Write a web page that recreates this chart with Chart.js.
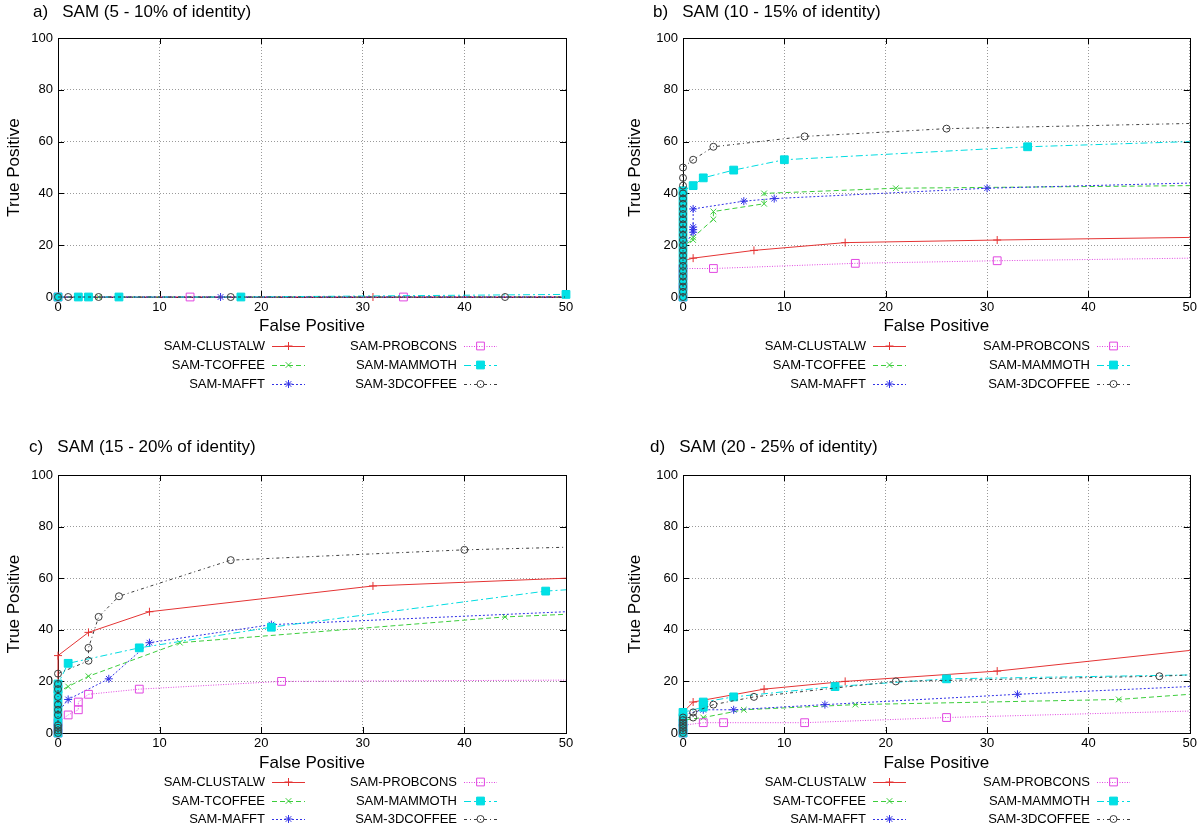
<!DOCTYPE html>
<html>
<head>
<meta charset="utf-8">
<script src="https://cdn.jsdelivr.net/npm/chart.js@4/dist/chart.umd.min.js"></script>
<style>
  html, body { margin: 0; padding: 0; background: #fff; }
  #wrap { position: relative; width: 1200px; height: 826px; }
  .cell { position: absolute; width: 600px; height: 413px; }
</style>
</head>
<body>
<div id="wrap">
  <div class="cell" style="left:0;top:0"><canvas id="chartA" width="600" height="413"></canvas></div>
  <div class="cell" style="left:600px;top:0"><canvas id="chartB" width="600" height="413"></canvas></div>
  <div class="cell" style="left:0;top:413px"><canvas id="chartC" width="600" height="413"></canvas></div>
  <div class="cell" style="left:600px;top:413px"><canvas id="chartD" width="600" height="413"></canvas></div>
</div>

<script>
// series names (same in every panel)
const names = ['SAM-CLUSTALW', 'SAM-TCOFFEE', 'SAM-MAFFT', 'SAM-PROBCONS', 'SAM-MAMMOTH', 'SAM-3DCOFFEE'];
const titles = [
  'a)   SAM (5 - 10% of identity)',
  'b)   SAM (10 - 15% of identity)',
  'c)   SAM (15 - 20% of identity)',
  'd)   SAM (20 - 25% of identity)'
];

// panel a : [false positive, true positive]
const aClustalw = [[0,0],[31,0],[50,0]];
const aTcoffee  = [[0,0],[4,0],[50,0]];
const aMafft    = [[0,0],[16,0],[50,0]];
const aProbcons = [[0,0],[13,0],[34,0],[50,0]];
const aMammoth  = [[0,0],[2,0],[3,0],[6,0],[18,0],[50,1]];
const a3dcoffee = [[0,0],[1,0],[4,0],[17,0],[44,0],[50,0]];

// panel b
const bClustalw = [[0,0],[0,3],[0,6],[0,9],[0,12],[0,14],[1,15],[7,18],[16,21],[31,22],[50,23]];
const bTcoffee  = [[0,0],[0,4],[0,8],[0,12],[0,16],[0,20],[1,22],[1,23],[3,30],[3,33],[8,36],[8,40],[21,42],[50,43]];
const bMafft    = [[0,0],[0,5],[0,10],[0,15],[0,19],[1,25],[1,26],[1,27],[1,34],[6,37],[9,38],[30,42],[50,44]];
const bProbcons = [[0,0],[0,4],[0,8],[0,11],[3,11],[17,13],[31,14],[50,15]];
const bMammoth  = [[0,0],[0,3],[0,6],[0,9],[0,12],[0,15],[0,18],[0,21],[0,24],[0,27],[0,30],[0,33],[0,36],[0,39],[0,41],[1,43],[2,46],[5,49],[10,53],[34,58],[50,60]];
const b3dcoffee = [[0,0],[0,2],[0,4],[0,6],[0,8],[0,10],[0,12],[0,14],[0,16],[0,18],[0,20],[0,22],[0,24],[0,26],[0,28],[0,30],[0,32],[0,34],[0,36],[0,38],[0,40],[0,43],[0,46],[0,50],[1,53],[3,58],[12,62],[26,65],[50,67]];

// panel c
const cClustalw = [[0,0],[0,30],[3,39],[9,47],[31,57],[50,60]];
const cTcoffee  = [[0,0],[0,6],[0,11],[0,16],[1,18],[3,22],[12,35],[44,45],[50,46]];
const cMafft    = [[0,0],[0,4],[0,8],[1,13],[5,21],[9,35],[21,42],[50,47]];
const cProbcons = [[0,0],[0,2],[0,4],[1,7],[2,9],[2,12],[3,15],[8,17],[22,20],[50,20.5]];
const cMammoth  = [[0,0],[0,3],[0,6],[0,9],[0,12],[0,15],[0,17],[0,19],[1,27],[8,33],[21,41],[48,55],[50,55.5]];
const c3dcoffee = [[0,0],[0,1],[0,2],[0,3],[0,7],[0,9],[0,11],[0,14],[0,17],[0,19],[0,23],[3,28],[3,33],[4,45],[6,53],[17,67],[40,71],[50,72]];

// panel d
const dClustalw = [[0,0],[0,8],[1,12],[8,17],[16,20],[31,24],[50,32]];
const dTcoffee  = [[0,0],[0,3],[0,5],[2,6],[6,9],[17,11],[43,13],[50,15]];
const dMafft    = [[0,0],[0,4],[0,7],[2,9],[5,9],[14,11],[33,15],[50,18]];
const dProbcons = [[0,0],[0,3],[2,4],[4,4],[12,4],[26,6],[50,8.5]];
const dMammoth  = [[0,0],[0,2],[0,4],[0,6],[0,8],[2,10],[2,11],[2,12],[5,14],[15,18],[26,21],[50,22.5]];
const d3dcoffee = [[0,0],[0,1],[0,2],[0,3],[0,4],[0,5],[0,6],[1,6],[1,8],[3,11],[7,14],[21,20],[47,22],[50,22.5]];

// line / marker look per series
const styles = [
  { color: 'rgb(228,52,52)',  dash: [],          point: 'cross',    r: 4,   fill: 'rgba(0,0,0,0)' },
  { color: 'rgb(60,205,60)',  dash: [5, 3],      point: 'crossRot', r: 4,   fill: 'rgba(0,0,0,0)' },
  { color: 'rgb(50,50,230)',  dash: [2, 2],      point: 'star',     r: 4,   fill: 'rgba(0,0,0,0)' },
  { color: 'rgb(225,70,225)', dash: [1, 1.5],    point: 'rect',     r: 5.5, fill: 'rgba(0,0,0,0)' },
  { color: 'rgb(0,220,225)',  dash: [7, 3, 2, 3],point: 'rect',     r: 5.5, fill: 'rgb(0,225,230)' },
  { color: 'rgb(60,60,60)',   dash: [3, 3, 1, 3],point: 'circle',   r: 3.5, fill: 'rgba(0,0,0,0)' }
];

const FONT = '"Liberation Sans", Arial, Helvetica, sans-serif';

// frame, inward ticks, title and the gnuplot style key
const panelDecor = {
  id: 'panelDecor',
  beforeDatasetsDraw(chart) {
    const { ctx, chartArea: a, scales: { x, y } } = chart;
    ctx.save();
    ctx.strokeStyle = '#000';
    ctx.lineWidth = 1;
    ctx.strokeRect(Math.round(a.left) + 0.5, Math.round(a.top) + 0.5, Math.round(a.right - a.left), Math.round(a.bottom - a.top));
    ctx.beginPath();
    x.ticks.forEach(t => {
      const px = Math.round(x.getPixelForValue(t.value)) + 0.5;
      ctx.moveTo(px, a.bottom); ctx.lineTo(px, a.bottom - 6);
      ctx.moveTo(px, a.top); ctx.lineTo(px, a.top + 6);
    });
    y.ticks.forEach(t => {
      const py = Math.round(y.getPixelForValue(t.value)) + 0.5;
      ctx.moveTo(a.left, py); ctx.lineTo(a.left + 6, py);
      ctx.moveTo(a.right, py); ctx.lineTo(a.right - 6, py);
    });
    ctx.stroke();
    ctx.restore();
  },
  afterDraw(chart) {
    const g = chart.options.plugins.panelDecor;
    const ctx = chart.ctx;
    ctx.save();
    ctx.fillStyle = '#000';
    ctx.font = '17px ' + FONT;
    ctx.textAlign = 'left';
    ctx.textBaseline = 'middle';
    ctx.fillText(g.title, g.titleX, g.titleY);

    ctx.font = '13px ' + FONT;
    chart.data.datasets.forEach((ds, i) => {
      const col = i < 3 ? 0 : 1;
      const row = i % 3;
      const tx = g.legX[col];
      const ty = g.legY[row];
      ctx.fillStyle = '#000';
      ctx.textAlign = 'right';
      ctx.fillText(ds.label, tx, ty);
      const sx = tx + 7, ex = sx + g.sampleW;
      ctx.strokeStyle = ds.borderColor;
      ctx.lineWidth = 1;
      ctx.setLineDash(ds.borderDash);
      ctx.beginPath();
      ctx.moveTo(sx, ty + 0.5);
      ctx.lineTo(ex, ty + 0.5);
      ctx.stroke();
      ctx.setLineDash([]);
      ctx.fillStyle = ds.pointBackgroundColor;
      Chart.helpers.drawPoint(ctx, { pointStyle: ds.pointStyle, radius: ds.markSize, rotation: 0, borderWidth: 1 }, (sx + ex) / 2, ty);
    });
    ctx.restore();
  }
};

function makePanel(id, title, g, series) {
  const datasets = series.map((pts, i) => {
    const s = styles[i];
    return {
      label: names[i],
      data: pts.map(p => ({ x: p[0], y: p[1] })),
      showLine: true,
      borderColor: s.color,
      borderWidth: 1,
      borderDash: s.dash,
      pointStyle: s.point,
      markSize: s.r,
      pointRadius: c => (c.raw && c.raw.x === 50 && !g.markEnd[i]) ? 0 : s.r,
      pointHoverRadius: s.r,
      pointBorderWidth: 1,
      pointBorderColor: s.color,
      pointBackgroundColor: s.fill,
      order: 6 - i,
      clip: false
    };
  });

  new Chart(document.getElementById(id), {
    type: 'scatter',
    data: { datasets },
    plugins: [panelDecor],
    options: {
      responsive: false,
      animation: false,
      events: [],
      layout: { padding: { left: g.pl, right: 600 - g.right, top: g.top, bottom: 413 - g.axisBottom } },
      plugins: {
        legend: { display: false },
        tooltip: { enabled: false },
        panelDecor: Object.assign({ title }, g)
      },
      scales: {
        x: {
          type: 'linear', min: 0, max: 50,
          ticks: { stepSize: 10, padding: 3, color: '#000', font: { family: FONT, size: 13 } },
          grid: { color: 'rgba(120,120,120,0.75)', lineWidth: 1, drawTicks: false },
          border: { display: false, dash: [1, 2] },
          title: { display: true, text: 'False Positive', color: '#000', font: { family: FONT, size: 17 }, padding: { top: 0, bottom: 0 } },
          afterFit: s => { s.height = g.axisBottom - g.bottom; }
        },
        y: {
          type: 'linear', min: 0, max: 100,
          ticks: { stepSize: 20, padding: 5, color: '#000', font: { family: FONT, size: 13 } },
          grid: { color: 'rgba(120,120,120,0.75)', lineWidth: 1, drawTicks: false },
          border: { display: false, dash: [1, 2] },
          title: { display: true, text: 'True Positive', color: '#000', font: { family: FONT, size: 17 }, padding: { top: 4, bottom: 0 } },
          afterFit: s => { s.width = g.left - g.pl; }
        }
      }
    }
  });
}

const noEnd = [false, false, false, false, false, false];

makePanel('chartA', titles[0],
  { pl: 0, left: 58, right: 566, top: 38, bottom: 297, axisBottom: 337, titleX: 33, titleY: 12,
    legX: [265, 457], legY: [346, 365, 384], sampleW: 33, markEnd: [false, false, false, false, true, false] },
  [aClustalw, aTcoffee, aMafft, aProbcons, aMammoth, a3dcoffee]);

makePanel('chartB', titles[1],
  { pl: 21, left: 83, right: 590, top: 38, bottom: 297, axisBottom: 337, titleX: 53, titleY: 12,
    legX: [266, 490], legY: [346, 365, 384], sampleW: 33, markEnd: noEnd },
  [bClustalw, bTcoffee, bMafft, bProbcons, bMammoth, b3dcoffee]);

makePanel('chartC', titles[2],
  { pl: 0, left: 58, right: 566, top: 62, bottom: 320, axisBottom: 361, titleX: 29, titleY: 34,
    legX: [265, 457], legY: [369, 388, 406], sampleW: 33, markEnd: noEnd },
  [cClustalw, cTcoffee, cMafft, cProbcons, cMammoth, c3dcoffee]);

makePanel('chartD', titles[3],
  { pl: 21, left: 83, right: 590, top: 62, bottom: 320, axisBottom: 361, titleX: 50, titleY: 34,
    legX: [266, 490], legY: [369, 388, 406], sampleW: 33, markEnd: noEnd },
  [dClustalw, dTcoffee, dMafft, dProbcons, dMammoth, d3dcoffee]);
</script>
</body>
</html>
